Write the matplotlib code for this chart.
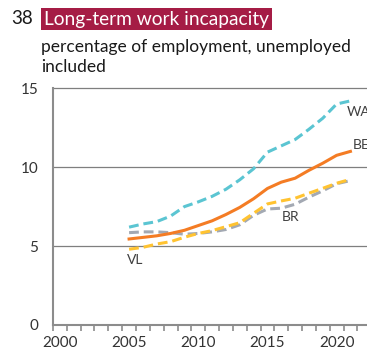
import numpy as np
import matplotlib.pyplot as plt

plt.rcParams['font.family'] = ['Lato', 'DejaVu Sans']

years = list(range(2005, 2022))
wa = [6.2, 6.4, 6.55, 6.9, 7.5, 7.8, 8.15, 8.6, 9.2, 9.9, 10.95, 11.35, 11.75, 12.4, 13.1, 14.0, 14.2]
be = [5.45, 5.55, 5.65, 5.8, 6.0, 6.3, 6.6, 7.0, 7.45, 8.0, 8.65, 9.05, 9.3, 9.8, 10.25, 10.75, 11.0]
br = [5.85, 5.9, 5.9, 5.85, 5.75, 5.8, 5.9, 6.05, 6.35, 6.95, 7.35, 7.4, 7.65, 8.1, 8.5, 8.95, 9.15]
vl = [4.8, 4.92, 5.13, 5.28, 5.56, 5.8, 5.98, 6.23, 6.48, 7.08, 7.67, 7.86, 8.03, 8.35, 8.66, 8.98, 9.23]
xticks = [2000, 2005, 2010, 2015, 2020]
yticks = [0, 5, 10, 15]

fig = plt.figure(figsize=(3.67, 3.56), dpi=100)
ax = fig.add_axes([0.1444, 0.0871, 0.867, 0.665])

axis_grey = '#8c8c8c'
ax.set_xlim(1999.5, 2022.5)
ax.set_ylim(0, 15)
for y in yticks[1:]:
    ax.axhline(y, color='#7f7f7f', lw=0.9, clip_on=False, zorder=1)

dash = (3.2, 1.6)
ax.plot(years, wa, color='#5BC5D2', lw=2.2, dashes=dash, zorder=3)
ax.plot(years, br, color='#A3A9B3', lw=2.2, dashes=dash, zorder=3)
ax.plot(years, vl, color='#FFC331', lw=2.2, dashes=dash, zorder=4)
ax.plot(years, be, color='#F47C24', lw=2.2, zorder=5)

# series labels sit at the line ends; WA and BE run past the right edge
lab = dict(fontsize=10, color='#404040', va='center')
ax.text(2020.75, 13.5, 'WA', **lab)
ax.text(2021.2, 11.4, 'BE', **lab)
ax.text(2016.05, 6.85, 'BR', **lab)
ax.text(2004.85, 4.1, 'VL', **lab)

for s in ['top', 'right']:
    ax.spines[s].set_visible(False)
for s in ['left', 'bottom']:
    ax.spines[s].set_color(axis_grey)
    ax.spines[s].set_linewidth(1.5)

ax.set_xticks(np.arange(1999.5, 2023, 1.0), minor=True)
ax.set_xticks(xticks)
ax.set_xticklabels([str(x) for x in xticks], fontsize=11, color='#333333')
ax.tick_params(axis='x', which='major', length=0, pad=8)
ax.tick_params(axis='x', which='minor', length=4, width=1.2, color=axis_grey, direction='out')
ax.set_yticks(yticks)
ax.set_yticklabels([str(y) for y in yticks], fontsize=11, color='#333333')
ax.tick_params(axis='y', length=0, pad=10.5)

fig.text(11 / 367, 1 - 19 / 356, '38', fontsize=13.5, color='#1a1a1a', va='center')
fig.text(44 / 367, 1 - 19 / 356, 'Long-term work incapacity', fontsize=13.8, color='white', va='center',
         bbox=dict(boxstyle='square,pad=0.15', fc='#A51C45', ec='none'))
fig.text(41 / 367, 1 - 47 / 356, 'percentage of employment, unemployed', fontsize=12.5, color='#1a1a1a', va='center')
fig.text(41 / 367, 1 - 67 / 356, 'included', fontsize=12.5, color='#1a1a1a', va='center')

fig.savefig('out.png', dpi=100)
